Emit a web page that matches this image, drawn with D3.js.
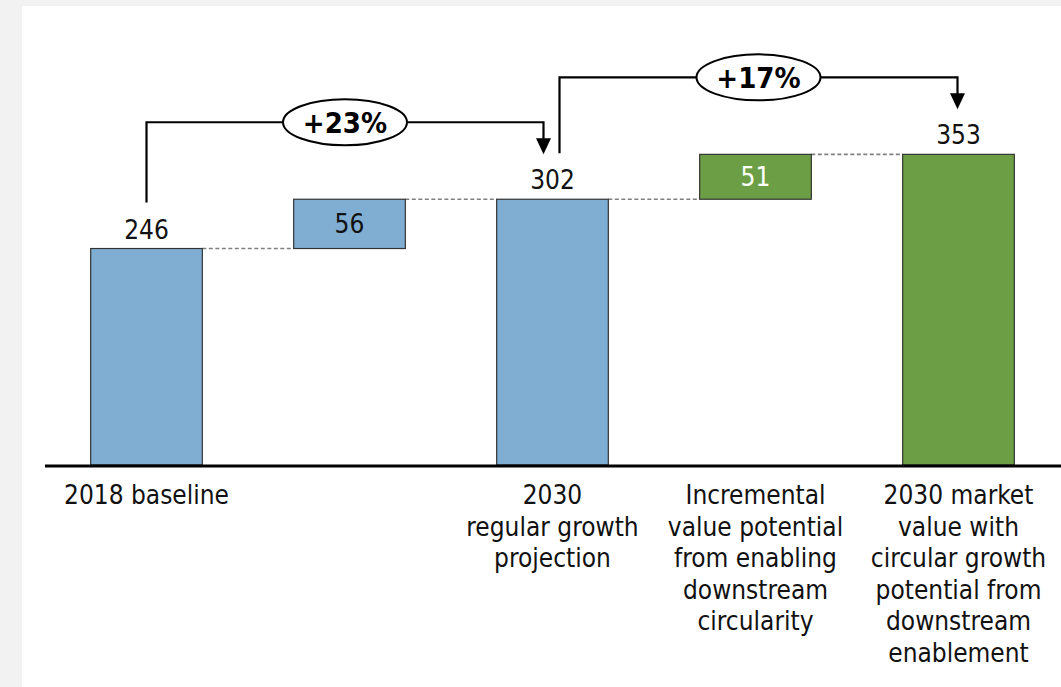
<!DOCTYPE html>
<html>
<head>
<meta charset="utf-8">
<script src="https://cdn.jsdelivr.net/npm/d3@7"></script>
<style>
  html, body { margin: 0; padding: 0; background: #f2f2f2; }
  svg { display: block; }
  text { font-family: "DejaVu Sans Condensed", "DejaVu Sans", sans-serif; font-stretch: condensed; }
</style>
</head>
<body>
<svg id="chart" width="1061" height="687"></svg>
<script>
// ---- data ----
const categories = ["2018 baseline", "Growth", "2030 regular growth projection",
  "Incremental value potential from enabling downstream circularity",
  "2030 market value with circular growth potential from downstream enablement"];
const categoryLines = [
  ["2018 baseline"],
  [],
  ["2030", "regular growth", "projection"],
  ["Incremental", "value potential", "from enabling", "downstream", "circularity"],
  ["2030 market", "value with", "circular growth", "potential from", "downstream", "enablement"]
];
const values = [246, 56, 302, 51, 353];
const barTypes = ["total", "delta", "total", "delta", "total"];
const barGroups = ["regular", "regular", "regular", "circular", "circular"];
const growthLabels = ["+23%", "+17%"];
const growthFrom = [0, 2];
const growthTo = [2, 4];

// ---- layout ----
const svg = d3.select("#chart");
const W = 1061, H = 687;
svg.append("rect").attr("x", 22).attr("y", 6).attr("width", W - 22).attr("height", H - 6).attr("fill", "#ffffff");

const x = d3.scaleBand().domain(categories).range([45, 1060]).paddingInner(0.45).paddingOuter(0.225);
const y = d3.scaleLinear().domain([0, 400]).range([465, 113]);
const color = d3.scaleOrdinal().domain(["regular", "circular"]).range(["#80aed3", "#6c9f45"]);

// compute bar extents
let running = 0;
const bars = values.map((v, i) => {
  let lo, hi;
  if (barTypes[i] === "total") { lo = 0; hi = v; running = v; }
  else { lo = running; hi = running + v; running = hi; }
  return { cat: categories[i], v, lo, hi, type: barTypes[i], group: barGroups[i], i };
});

// connectors
const conn = svg.append("g");
for (let i = 0; i < bars.length - 1; i++) {
  const yy = y(bars[i].hi);
  conn.append("line")
    .attr("x1", x(bars[i].cat) + x.bandwidth()).attr("x2", x(bars[i + 1].cat))
    .attr("y1", yy).attr("y2", yy)
    .attr("stroke", "#808080").attr("stroke-width", 1.6).attr("stroke-dasharray", "4,2.5");
}

// bars
svg.append("g").selectAll("rect").data(bars).join("rect")
  .attr("x", d => x(d.cat)).attr("width", x.bandwidth())
  .attr("y", d => y(d.hi)).attr("height", d => y(d.lo) - y(d.hi))
  .attr("fill", d => color(d.group)).attr("stroke", "#333333").attr("stroke-width", 1.2);

// axis line
svg.append("line").attr("x1", 45).attr("x2", W).attr("y1", 466).attr("y2", 466)
  .attr("stroke", "#000").attr("stroke-width", 3);

// value labels
const lbl = svg.append("g").attr("font-size", 26);
bars.forEach(d => {
  const cx = x(d.cat) + x.bandwidth() / 2;
  if (d.type === "total") {
    lbl.append("text").attr("x", cx).attr("y", y(d.hi) - 10).attr("text-anchor", "middle")
      .attr("fill", "#111").text(d.v);
  } else {
    lbl.append("text").attr("x", cx).attr("y", (y(d.hi) + y(d.lo)) / 2).attr("dy", "0.36em")
      .attr("text-anchor", "middle").attr("fill", d.group === "circular" ? "#ffffff" : "#111").text(d.v);
  }
});

// category labels
const cl = svg.append("g").attr("font-size", 26).attr("fill", "#111");
categoryLines.forEach((lines, i) => {
  const cx = x(categories[i]) + x.bandwidth() / 2;
  lines.forEach((t, j) => {
    cl.append("text").attr("x", cx).attr("y", 504 + j * 31.6).attr("text-anchor", "middle").text(t);
  });
});

// growth brackets
const br = svg.append("g");
growthLabels.forEach((g, k) => {
  const a = bars[growthFrom[k]], b = bars[growthTo[k]];
  const xa = x(a.cat) + x.bandwidth() / 2 + (k === 0 ? 0 : 7);
  const xb = x(b.cat) + x.bandwidth() / 2 - (k === 0 ? 9 : 1);
  const ya = y(a.hi) - 46;
  const yb = y(b.hi) - 45;
  const yh = Math.min(y(a.hi), y(b.hi)) - 77;
  br.append("path")
    .attr("d", `M${xa},${ya}V${yh}H${xb}V${yb - 15}`)
    .attr("fill", "none").attr("stroke", "#000").attr("stroke-width", 2.2);
  br.append("path")
    .attr("d", `M${xb - 7.5},${yb - 16}L${xb + 7.5},${yb - 16}L${xb},${yb}Z`)
    .attr("fill", "#000");
  const mx = (xa + xb) / 2;
  br.append("ellipse").attr("cx", mx).attr("cy", yh).attr("rx", 62).attr("ry", 23)
    .attr("fill", "#fff").attr("stroke", "#000").attr("stroke-width", 2);
  br.append("text").attr("x", mx).attr("y", yh).attr("dy", "0.36em").attr("text-anchor", "middle")
    .attr("font-size", 29).attr("font-weight", "bold").attr("fill", "#000").text(g);
});
</script>
</body>
</html>
